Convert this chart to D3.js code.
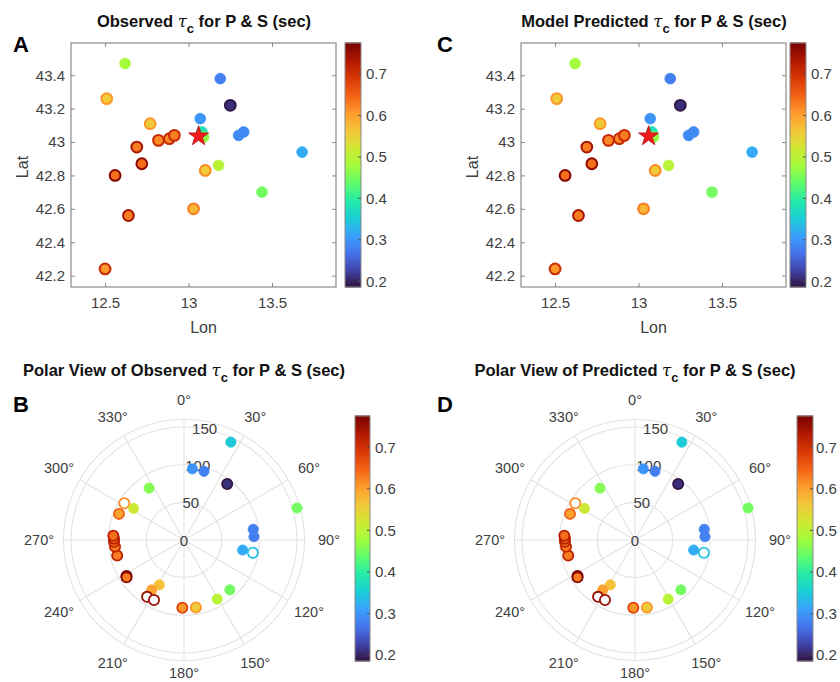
<!DOCTYPE html>
<html><head><meta charset="utf-8">
<script src="https://cdn.jsdelivr.net/npm/d3@7"></script>
<style>body{margin:0;background:#fff}svg{display:block}</style>
</head><body>
<svg id="c" width="840" height="682"></svg>
<script>
// ---------- data ----------
const lonTicks = [12.5, 13, 13.5];
const latTicks = [42.2, 42.4, 42.6, 42.8, 43, 43.2, 43.4];
const cbTicks = [0.2, 0.3, 0.4, 0.5, 0.6, 0.7];
const rTicks = [0, 50, 100, 150];
const angTicks = [0, 30, 60, 90, 120, 150, 180, 210, 240, 270, 300, 330];

const stLon = [12.62,12.51,13.19,13.25,12.77,13.07,12.82,12.885,12.915,13.08,13.09,13.30,13.33,13.68,12.69,12.72,12.56,13.10,13.18,13.44,13.03,12.64,12.50];
const stLat = [43.47,43.26,43.38,43.22,43.11,43.14,43.01,43.02,43.04,43.06,43.03,43.04,43.06,42.94,42.97,42.87,42.80,42.83,42.86,42.70,42.60,42.56,42.24];
const obsFill = [0.48,0.56,0.28,0.21,0.56,0.30,0.62,0.62,0.63,0.38,0.47,0.29,0.29,0.32,0.63,0.64,0.64,0.56,0.50,0.45,0.58,0.63,0.61];
const obsEdge = [0.48,0.61,0.28,0.19,0.61,0.30,0.71,0.71,0.71,0.38,0.47,0.29,0.29,0.32,0.74,0.76,0.77,0.62,0.50,0.45,0.63,0.74,0.71];
const predFill = [0.48,0.56,0.28,0.21,0.56,0.30,0.62,0.62,0.63,0.38,0.47,0.29,0.29,0.32,0.63,0.64,0.64,0.56,0.50,0.45,0.58,0.63,0.61];
const predEdge = [0.48,0.61,0.28,0.19,0.61,0.30,0.71,0.71,0.71,0.38,0.47,0.29,0.29,0.32,0.74,0.76,0.77,0.62,0.50,0.45,0.63,0.74,0.71];
const epiLon = 13.06, epiLat = 43.035;

const polAz   = [25.6,6.7,16.2,37.6,74.2,81.2,87.3,99.7,100.5,137.4,150.7,170,181.4,208.8,212.9,213,206.6,238,237,257,264.5,268.5,271,273.5,291.9,301.6,302,326];
const polDist = [144,95,95,94,156,93,93,79,93,90,90,91,90,68,79,90,89,90,91,91,92,93,93,94,93,93,79,83];
const polObsFill = [0.35,0.30,0.28,0.21,0.45,0.28,0.28,0.32,null,0.45,0.50,0.56,0.61,0.57,0.60,null,null,0.63,0.63,0.63,0.63,0.63,0.64,0.64,0.60,null,0.52,0.46];
const polObsEdge = [0.35,0.30,0.28,0.19,0.45,0.28,0.28,0.32,0.34,0.45,0.50,0.61,0.68,0.57,0.60,0.75,0.75,0.77,0.77,0.72,0.71,0.72,0.73,0.73,0.65,0.62,0.52,0.46];
const polPredFill = [0.35,0.30,0.28,0.21,0.45,0.28,0.28,0.32,null,0.45,0.50,0.56,0.61,0.57,0.60,null,null,0.63,0.63,0.63,0.63,0.63,0.64,0.64,0.60,null,0.52,0.46];
const polPredEdge = [0.35,0.30,0.28,0.19,0.45,0.28,0.28,0.32,0.34,0.45,0.50,0.61,0.68,0.57,0.60,0.75,0.75,0.77,0.77,0.72,0.71,0.72,0.73,0.73,0.65,0.62,0.52,0.46];

const turboColors = ['#30123b','#4145ab','#4675ed','#39a2fc','#1bcfd4','#24eca6','#61fc6c','#a4fc3b','#d1e834','#f3c63a','#fe9b2d','#f36315','#d93806','#b11901','#7a0403'];
const cDomain = [0.186, 0.775];

// ---------- setup ----------
const svg = d3.select('#c');
const FONT = '"Liberation Sans", Arial, Helvetica, sans-serif';
const turbo = d3.piecewise(d3.interpolateRgb, turboColors);
const color = d3.scaleSequential(turbo).domain(cDomain);
const TXT = '#404040', BOX = '#8a8a8a', GRID = '#e3e3e3';

function title(x, y, pre, post) {
  const t = svg.append('text').attr('x', x).attr('y', y).attr('text-anchor', 'middle')
    .attr('font-family', FONT).attr('font-size', 16.5).attr('font-weight', 'bold').attr('fill', '#111');
  t.append('tspan').text(pre + ' ');
  t.append('tspan').attr('font-style', 'italic').attr('font-weight', 'normal').attr('font-family', '"DejaVu Serif", serif').text('τ');
  t.append('tspan').attr('dy', 6).attr('font-size', 13).text('c');
  t.append('tspan').attr('dy', -6).text(' ' + post);
}
function letter(x, y, s) {
  svg.append('text').attr('x', x).attr('y', y).attr('font-family', FONT)
    .attr('font-size', 22).attr('font-weight', 'bold').attr('fill', '#000').text(s);
}

function colorbar(x0, x1, y0, y1, pad) {
  const g = svg.append('g');
  const sc = d3.scaleLinear().domain(cDomain).range([y1, y0]);
  const n = 120;
  const steps = d3.range(n).map(i => cDomain[0] + (cDomain[1] - cDomain[0]) * (i + 0.5) / n);
  const h = (y1 - y0) / n;
  g.selectAll('rect.s').data(steps).join('rect')
    .attr('x', x0).attr('width', x1 - x0)
    .attr('y', d => sc(d) - h / 2 - 0.5).attr('height', h + 1)
    .attr('fill', d => color(d));
  g.append('rect').attr('x', x0).attr('y', y0).attr('width', x1 - x0).attr('height', y1 - y0)
    .attr('fill', 'none').attr('stroke', BOX).attr('stroke-width', 1);
  const ax = d3.axisRight(sc).tickValues(cbTicks).tickSize(0).tickPadding(pad).tickFormat(d3.format('.1f'));
  const ag = g.append('g').attr('transform', `translate(${x1},0)`).call(ax);
  ag.select('.domain').remove();
  ag.selectAll('text').attr('font-family', FONT).attr('font-size', 15).attr('fill', TXT);
  g.selectAll('line.t').data(cbTicks).join('line')
    .attr('x1', x1 - 3).attr('x2', x1).attr('y1', d => sc(d)).attr('y2', d => sc(d))
    .attr('stroke', '#555');
}

function mapPanel(x0, x1, y0, y1, fills, edges, cbx) {
  const x = d3.scaleLinear().domain([12.296, 13.883]).range([x0, x1]);
  const y = d3.scaleLinear().domain([42.132, 43.593]).range([y1, y0]);
  const g = svg.append('g');
  g.append('rect').attr('x', x0).attr('y', y0).attr('width', x1 - x0).attr('height', y1 - y0)
    .attr('fill', '#fff').attr('stroke', BOX).attr('stroke-width', 1.2);
  const xa = g.append('g').attr('transform', `translate(0,${y1})`)
    .call(d3.axisBottom(x).tickValues(lonTicks).tickSize(-4).tickPadding(10).tickFormat(d3.format('')));
  const xt = g.append('g').attr('transform', `translate(0,${y0})`)
    .call(d3.axisTop(x).tickValues(lonTicks).tickSize(-4).tickFormat(''));
  const ya = g.append('g').attr('transform', `translate(${x0},0)`)
    .call(d3.axisLeft(y).tickValues(latTicks).tickSize(-4).tickPadding(6).tickFormat(d3.format('')));
  const yr = g.append('g').attr('transform', `translate(${x1},0)`)
    .call(d3.axisRight(y).tickValues(latTicks).tickSize(-4).tickFormat(''));
  [xa, xt, ya, yr].forEach(a => { a.select('.domain').remove(); a.selectAll('line').attr('stroke', BOX); });
  [xa, ya].forEach(a => a.selectAll('text').attr('font-family', FONT).attr('font-size', 15).attr('fill', TXT));
  const idx = d3.range(stLon.length);
  g.selectAll('circle.st').data(idx).join('circle')
    .attr('cx', i => x(stLon[i])).attr('cy', i => y(stLat[i])).attr('r', 5.4)
    .attr('fill', i => color(fills[i])).attr('stroke', i => color(edges[i]))
    .attr('stroke-width', i => edges[i] === fills[i] ? 0.8 : 2);
  g.append('path').attr('d', d3.symbol(d3.symbolStar, 125)())
    .attr('transform', `translate(${x(epiLon)},${y(epiLat)})`)
    .attr('fill', '#f21c1c').attr('stroke', '#b01010').attr('stroke-width', 0.8);
  svg.append('text').attr('x', (x0 + x1) / 2).attr('y', 333).attr('text-anchor', 'middle')
    .attr('font-family', FONT).attr('font-size', 16).attr('fill', TXT).text('Lon');
  svg.append('text').attr('transform', `translate(${x0 - 43},${(y0 + y1) / 2 + 2}) rotate(-90)`)
    .attr('text-anchor', 'middle').attr('font-family', FONT).attr('font-size', 16).attr('fill', TXT).text('Lat');
  colorbar(cbx[0], cbx[1], y0, y1, 5);
}

function polarPanel(cx, cy, fills, edges, cbx) {
  const r = d3.scaleLinear().domain([0, 160]).range([0, 120.5]);
  const g = svg.append('g').attr('transform', `translate(${cx},${cy})`);
  const pt = (az, d) => [r(d) * Math.sin(az * Math.PI / 180), -r(d) * Math.cos(az * Math.PI / 180)];
  g.selectAll('circle.ring').data(rTicks.slice(1).concat([160])).join('circle')
    .attr('r', d => r(d)).attr('fill', 'none').attr('stroke', GRID).attr('stroke-width', 1.1);
  g.selectAll('line.sp').data(angTicks).join('line')
    .attr('x1', 0).attr('y1', 0)
    .attr('x2', d => pt(d, 160)[0]).attr('y2', d => pt(d, 160)[1])
    .attr('stroke', GRID).attr('stroke-width', 1.1);
  g.selectAll('text.rt').data(rTicks).join('text')
    .attr('x', d => pt(10.5, d)[0]).attr('y', d => pt(10.5, d)[1])
    .attr('text-anchor', 'middle').attr('dominant-baseline', 'central')
    .attr('font-family', FONT).attr('font-size', 15).attr('fill', TXT).text(d => d);
  const lr = d => 140 + 5 * Math.abs(Math.sin(d * Math.PI / 180)) - (d === 180 ? 7 : 0);
  g.selectAll('text.at').data(angTicks).join('text')
    .attr('x', d => lr(d) * Math.sin(d * Math.PI / 180))
    .attr('y', d => -lr(d) * Math.cos(d * Math.PI / 180))
    .attr('text-anchor', 'middle').attr('dominant-baseline', 'central')
    .attr('font-family', FONT).attr('font-size', 14.5).attr('fill', TXT).text(d => d + '°');
  const idx = d3.range(polAz.length);
  g.selectAll('circle.p').data(idx).join('circle')
    .attr('cx', i => pt(polAz[i], polDist[i])[0]).attr('cy', i => pt(polAz[i], polDist[i])[1])
    .attr('r', 5.1)
    .attr('fill', i => fills[i] == null ? '#fff' : color(fills[i]))
    .attr('stroke', i => color(edges[i]))
    .attr('stroke-width', i => edges[i] === fills[i] ? 0.8 : 1.8);
  colorbar(cbx[0], cbx[1], 416, 661, cbx[2]);
}

// ---------- panels ----------
title(204, 27, 'Observed', 'for P & S (sec)');
title(654, 27, 'Model Predicted', 'for P & S (sec)');
title(184, 376, 'Polar View of Observed', 'for P & S (sec)');
title(635, 376, 'Polar View of Predicted', 'for P & S (sec)');
letter(13, 52, 'A'); letter(437, 52, 'C'); letter(13, 412, 'B'); letter(437, 412, 'D');

mapPanel(71, 336, 43, 287, obsFill, obsEdge, [345, 361]);
mapPanel(521, 786, 43, 287, predFill, predEdge, [790, 806]);
polarPanel(184, 540, polObsFill, polObsEdge, [355, 370, 5]);
polarPanel(635, 540, polPredFill, polPredEdge, [797, 813, 3]);
</script>
</body></html>
